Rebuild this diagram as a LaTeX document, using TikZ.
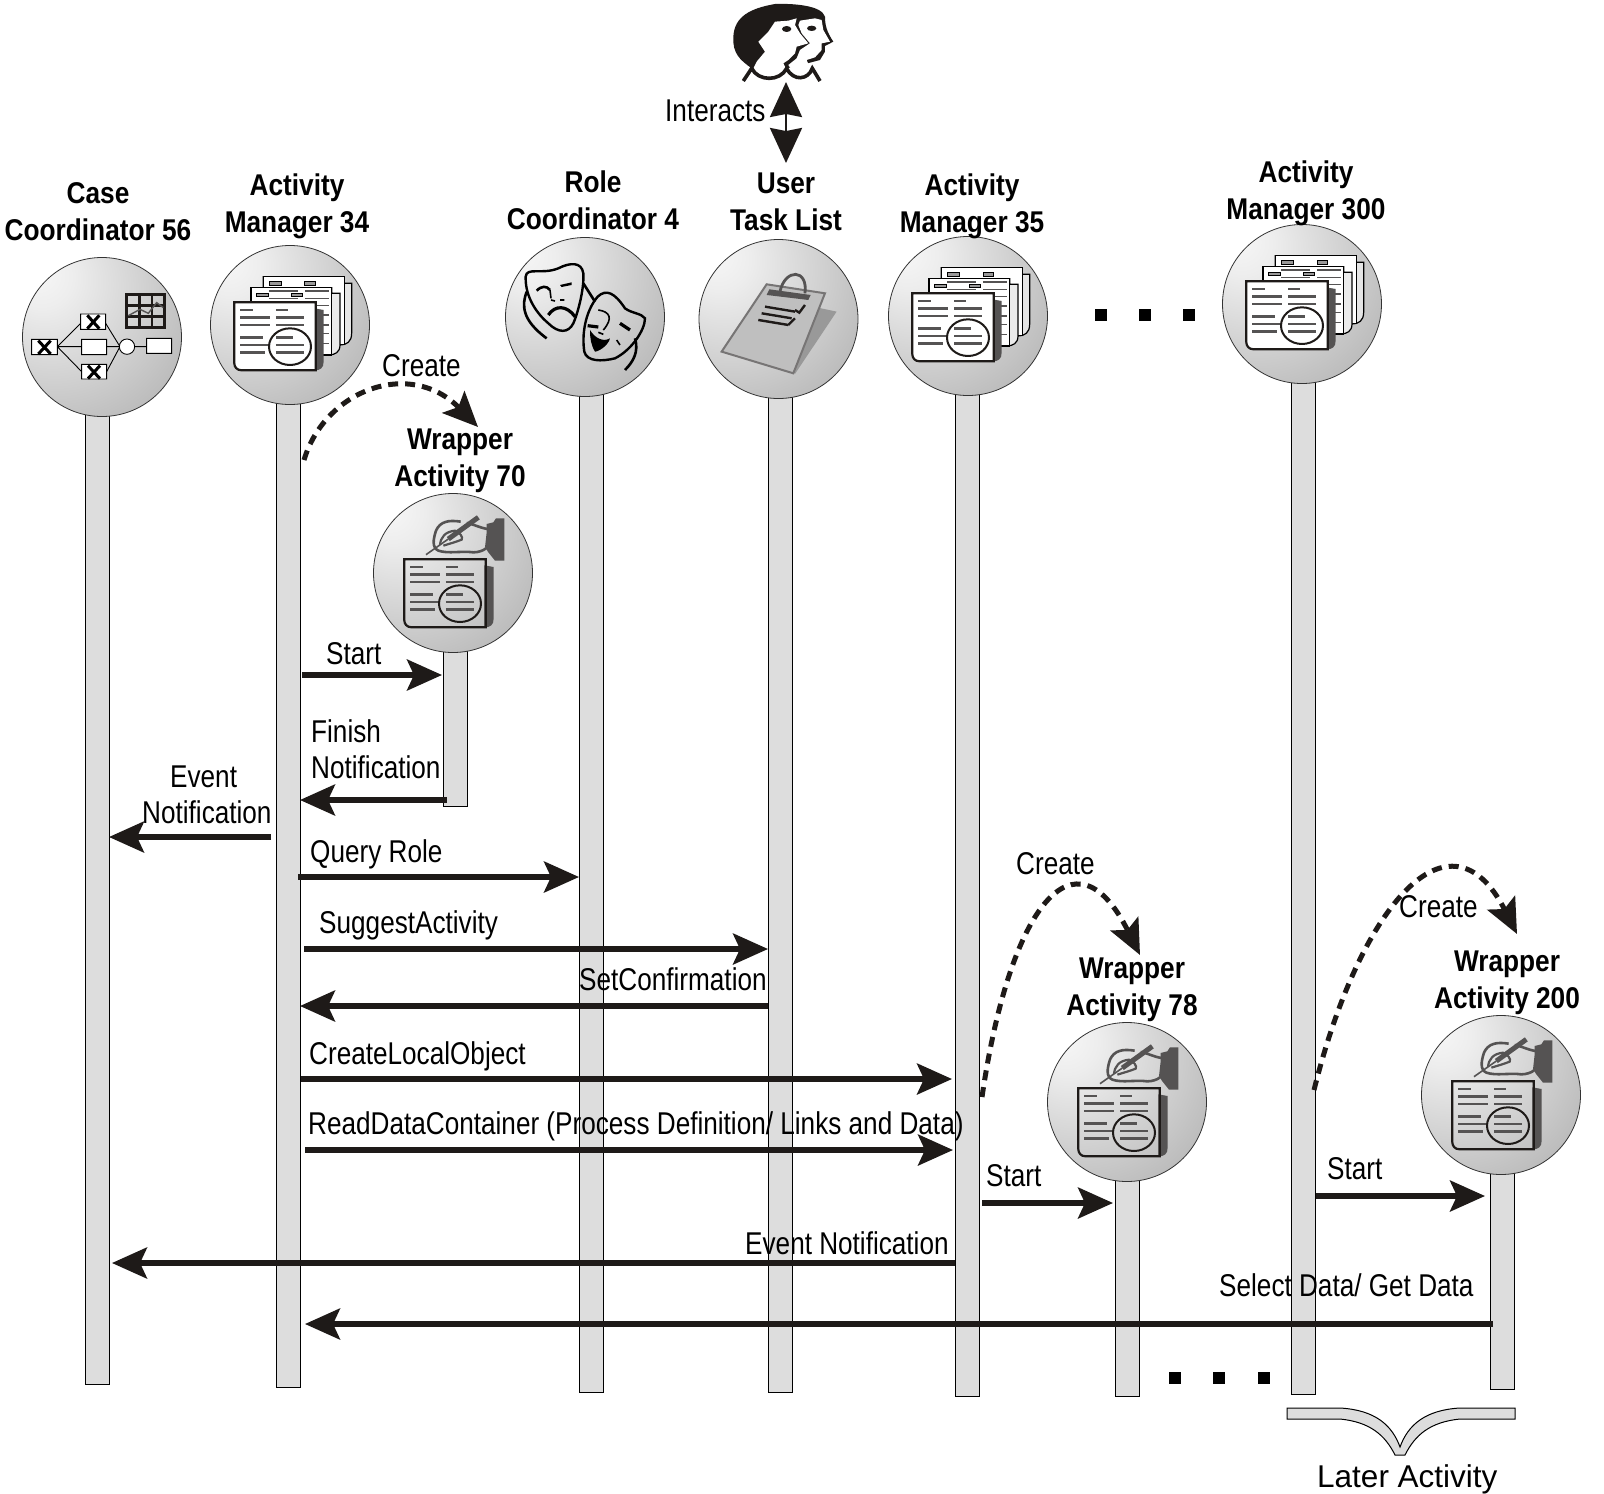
\documentclass[tikz,border=0pt]{standalone}
\usepackage{fontspec}
\setmainfont{Liberation Sans}
\newfontfamily\labelfont[FakeStretch=0.83]{Liberation Sans}
\newfontfamily\titlefont[FakeStretch=0.875]{Liberation Sans}
\usetikzlibrary{arrows.meta}
\definecolor{inkdark}{HTML}{1E1A18}
\definecolor{iconmid}{HTML}{555353}
\definecolor{lifegrey}{HTML}{DDDDDD}
\pgfdeclareradialshading{ballshade}{\pgfpoint{-21bp}{21bp}}{color(0bp)=(white!97!black); color(10bp)=(white!93!black); color(30bp)=(white!81!black); color(50bp)=(white!69!black); color(65bp)=(white!57!black); color(80bp)=(white!38!black); color(100bp)=(white!25!black)}
\tikzset{
  lifeline/.style={draw=black,line width=1pt,fill=lifegrey,minimum width=24pt,anchor=south,inner sep=0pt},
  ball/.style={circle,draw=black!80,line width=0.8pt,shading=ballshade,minimum size=159pt,inner sep=0pt},
  title/.style={align=center,font=\titlefont\bfseries\fontsize{30}{37}\selectfont,inner sep=0pt},
  msglabel/.style={anchor=base west,align=left,font=\labelfont\fontsize{31.5}{35}\selectfont,inner sep=0pt},
  msg/.style={-{Stealth[length=35pt,width=31pt,inset=7pt]},line width=5.2pt,color=inkdark},
  create/.style={-{Stealth[length=35pt,width=31pt,inset=7pt]},line width=5pt,color=inkdark,dash pattern=on 10pt off 7pt},
  dotmark/.style={fill=black,minimum size=12pt,inner sep=0pt},
  pics/docpage/.style={code={
    \begin{scope}[shift={(-65,-60)},scale=0.3333]
      \fill[iconmid] (268,130) -- (296,135) -- (296,290) .. controls (296,310) and (285,316) .. (268,316) -- cycle;
      \draw[line width=2.2pt,draw=inkdark,fill=#1] (28,112) -- (272,112) -- (272,316) -- (50,316) .. controls (35,316) and (28,305) .. (28,295) -- cycle;
      \foreach \xa/\xb/\yy in {45/85/135,45/135/157,45/135/180,45/115/218,45/135/240,45/120/262,153/188/135,153/237/157,153/237/180,153/203/218,153/237/240,153/237/262}
        \draw[line width=2.8pt,color=iconmid] (\xa,\yy) -- (\xb,\yy);
      \draw[line width=2pt,color=inkdark] (195,245) ellipse (63 and 55);
    \end{scope}}},
  pics/docstack/.style={code={
    \begin{scope}[shift={(-65,-60)},scale=0.3333]
      \draw[line width=1.2pt,fill=white!90!black] (115,35) -- (358,35) -- (358,55) -- (380,55) -- (380,205) .. controls (380,230) and (365,240) .. (345,240) -- (115,240) -- cycle;
      \draw[line width=1pt,fill=white] (115,35) -- (358,35) -- (358,240) -- (115,240) -- cycle;
      \draw[line width=1pt,fill=iconmid!60] (133,50) rectangle (170,62) (240,50) rectangle (272,62);
      \draw[line width=1.2pt,fill=white!92!black] (78,68) -- (320,68) -- (320,85) -- (345,85) -- (345,240) .. controls (345,262) and (330,270) .. (310,270) -- (78,270) -- cycle;
      \draw[line width=1.6pt,fill=white] (78,68) -- (320,68) -- (320,270) -- (78,270) -- cycle;
      \draw[line width=1pt,fill=iconmid!60] (95,85) rectangle (130,95) (200,85) rectangle (232,95);
      \foreach \yy in {78,100,122,150,180,205,235}
        \draw[line width=1.6pt,color=iconmid] (132,\yy) -- (220,\yy) (240,\yy) -- (312,\yy);
    \end{scope}
    \pic {docpage=white};}},
  pics/handpen/.style={code={
    \begin{scope}[shift={(-33,-64)},scale=0.3333]
      \fill[iconmid] (200,45) -- (220,40) -- (228,28) -- (253,28) -- (253,155) -- (225,155) -- (205,130) -- (195,115) -- (200,70) -- cycle;
      \draw[line width=2.6pt,color=iconmid] (202,60) .. controls (175,55) and (160,45) .. (140,42);
      \draw[line width=2.6pt,color=iconmid] (122,38) .. controls (85,32) and (60,38) .. (48,65) .. controls (40,90) and (35,115) .. (55,125) .. controls (85,135) and (125,125) .. (160,130) .. controls (175,130) and (190,125) .. (198,118);
      \draw[line width=2.2pt,color=iconmid] (60,108) .. controls (62,85) and (75,68) .. (105,65) .. controls (120,70) and (130,85) .. (125,92) .. controls (105,100) and (85,105) .. (70,110);
      \draw[line width=5pt,color=iconmid] (175,25) -- (85,90);
      \draw[line width=1.6pt,color=iconmid] (85,90) -- (18,137);
    \end{scope}
    \pic[shift={(7,9)}] {docpage=none};}}
}

\begin{document}
\begin{tikzpicture}[x=1pt,y=-1pt]
      \useasboundingbox (0,0) rectangle (1604,1494);
      % lifelines
      \node[lifeline,minimum height=1047pt] (lcase) at (97,1385) {}; \node[lifeline,minimum height=1062pt] (lam34) at (288,1388) {}; \node[lifeline,minimum height=1074pt] (lrole) at (591.5,1393) {};
      \node[lifeline,minimum height=1072pt] (luser) at (780.5,1393) {}; \node[lifeline,minimum height=1079pt] (lam35) at (967.5,1397) {}; \node[lifeline,minimum height=1090pt] (lam300) at (1303.5,1395) {};
      \node[lifeline,minimum height=232pt] (lwa70) at (455.5,807) {}; \node[lifeline,minimum height=294pt] (lwa78) at (1127,1397) {}; \node[lifeline,minimum height=294pt] (lwa200) at (1502.5,1390) {};
      % balls
      \node[ball] (case) at (102,337) {}; \node[ball] (am34) at (290,325) {}; \node[ball] (role) at (585,317) {}; \node[ball] (user) at (778.5,319) {};
      \node[ball] (am35) at (968,316) {}; \node[ball] (am300) at (1302,304) {}; \node[ball] (wa70) at (453,573) {}; \node[ball] (wa78) at (1127,1102) {}; \node[ball] (wa200) at (1501,1095) {};
      % titles
      \node[title] (tcase) at (98,212) {Case\\Coordinator 56}; \node[title] (tam34) at (297,206) {Activity\\Manager 34}; \node[title] (trole) at (593,200) {Role\\Coordinator 4};
      \node[title] (tuser) at (786,202) {User\\Task List}; \node[title] (tam35) at (972,206) {Activity\\Manager 35}; \node[title] (tam300) at (1306,193) {Activity\\Manager 300};
      \node[title] (twa70) at (460,461) {Wrapper\\Activity 70}; \node[title] (twa78) at (1132,990) {Wrapper\\Activity 78}; \node[title] (twa200) at (1507,983) {Wrapper\\Activity 200};
      % icons
      \pic at (am34) {docstack}; \pic at (am35) {docstack}; \pic at (am300) {docstack};
      \pic at (wa70) {handpen}; \pic at (wa78) {handpen}; \pic at (wa200) {handpen};
      % case icon
      \begin{scope}[shift={(0,150)},scale=0.3333]
        \draw[line width=0.9pt] (172,590) -- (242,520) (172,590) -- (245,590) (172,590) -- (245,665) (317,520) -- (360,590) (320,590) -- (358,590) (320,665) -- (360,590) (405,590) -- (440,590);
        \draw[line width=0.9pt,fill=white] (95,568) rectangle (172,614) (242,492) rectangle (317,538) (245,568) rectangle (320,614) (245,643) rectangle (320,687) (440,565) rectangle (515,610) (381,590) circle (23);
        \draw[line width=3pt] (115,572) -- (152,612) (152,572) -- (115,612) (262,496) -- (298,536) (298,496) -- (262,536) (264,647) -- (300,686) (300,647) -- (264,686);
        \draw[line width=2.4pt,color=inkdark] (380,433) rectangle (493,532) (418,433) -- (418,532) (456,433) -- (456,532) (380,466) -- (493,466) (380,499) -- (493,499);
        \draw[line width=1.4pt,color=iconmid] (385,497) -- (420,478) -- (445,490) -- (470,458) -- (490,473);
      \end{scope}
      % mask icon
      \begin{scope}[shift={(515,255)},scale=0.3333]
        \draw[line width=2.6pt,color=black] (35,110) .. controls (20,150) and (20,195) .. (95,250) (205,85) -- (240,140) (360,250) .. controls (372,290) and (355,320) .. (330,345);
        \draw[line width=2.4pt,color=black] (32,65) .. controls (35,35) and (80,60) .. (130,40) .. controls (165,22) and (200,20) .. (205,55) .. controls (208,100) and (190,170) .. (175,205) .. controls (160,235) and (130,235) .. (100,205) .. controls (70,180) and (30,130) .. (32,65) -- cycle;
        \draw[line width=2.4pt,color=black] (248,125) .. controls (275,100) and (300,115) .. (330,160) .. controls (350,175) and (380,175) .. (390,190) .. controls (390,225) and (350,285) .. (300,310) .. controls (260,320) and (215,320) .. (208,290) .. controls (200,240) and (210,170) .. (248,125) -- cycle;
        \draw[line width=2.6pt,color=black] (65,107) .. controls (80,92) and (95,92) .. (105,105);
        \draw[line width=1.6pt,color=black] (105,105) -- (108,130) (108,135) -- (120,138) (135,135) -- (148,135);
        \fill[black] (135,90) -- (170,82) -- (170,90) -- (140,96) -- cycle;
        \draw[line width=3.2pt,color=black] (100,180) .. controls (120,150) and (155,150) .. (180,185) (218,212) -- (250,216) (315,205) -- (345,225);
        \draw[line width=1.6pt,color=black] (250,165) .. controls (285,170) and (295,190) .. (265,225) (250,232) -- (265,238) (305,255) -- (315,270);
        \fill[black] (225,225) .. controls (240,250) and (265,262) .. (285,250) .. controls (280,272) and (250,290) .. (240,290) .. controls (228,270) and (225,250) .. (225,225) -- cycle;
      \end{scope}
      % clipboard icon
      \begin{scope}[shift={(480,0)},scale=0.3333]
        \fill[white!60!black] (1000,920) -- (1070,935) -- (945,1122) -- (890,1000) -- cycle;
        \draw[line width=2pt,draw=iconmid!80,fill=white!75!black] (860,853) -- (1035,880) -- (940,1120) -- (725,1055) -- cycle;
        \draw[line width=2.8pt,draw=iconmid] (900,875) .. controls (915,805) and (985,805) .. (975,880);
        \fill[iconmid] (868,868) -- (992,885) -- (985,900) -- (860,885) -- cycle;
        \draw[line width=2.4pt,color=inkdark] (855,920) -- (945,935) (845,940) -- (935,955) (835,960) -- (925,975) (945,930) -- (958,938) -- (975,915) (925,975) -- (945,955);
      \end{scope}
      % people icon
      \begin{scope}[shift={(725,0)},scale=0.3333]
        \fill[inkdark] (25,110) .. controls (28,50) and (75,25) .. (150,12) .. controls (200,10) and (290,15) .. (300,50) .. controls (300,75) and (305,95) .. (325,125) -- (300,138) -- (300,155) -- (285,180) -- (255,188) -- (185,205) -- (80,205) .. controls (45,180) and (22,160) .. (25,110) -- cycle;
        \fill[white] (225,62) -- (270,55) -- (290,60) -- (295,90) -- (315,125) -- (290,130) -- (290,150) -- (270,172) -- (245,180) -- (255,205) -- (245,228) -- (215,230) -- (190,195) -- (215,175) -- (225,150) -- (255,130) -- (230,100) -- (220,75) -- cycle;
        \fill[white] (150,65) -- (190,62) -- (215,55) -- (210,75) -- (225,100) -- (250,130) -- (215,140) -- (210,160) -- (190,180) -- (175,190) -- (185,210) -- (170,235) -- (100,235) -- (85,205) -- (95,185) -- (120,155) -- (100,125) -- (130,95) -- cycle;
        \fill[inkdark] (185,87) ellipse (14 and 9) (260,85) ellipse (14 and 8);
        \draw[line width=3.6pt,color=inkdark] (55,243) -- (80,205) .. controls (100,245) and (165,245) .. (185,205) .. controls (205,245) and (250,240) .. (262,205) -- (285,243);
      \end{scope}
      % people arrow
      \coordinate (talk) at (786,82); \coordinate (tasklist) at (786,163);
      \draw[{Stealth[length=35pt,width=32pt,inset=3pt]}-{Stealth[length=35pt,width=32pt,inset=3pt]},line width=2.6pt,color=inkdark] (talk) -- (tasklist);
      % dots
      \foreach \i/\xx in {1/1101,2/1145,3/1189} \node[dotmark] (dotsa\i) at (\xx,315) {};
      \foreach \i/\xx in {1/1175,2/1219,3/1264} \node[dotmark] (dotsb\i) at (\xx,1378) {};
      % create
      \coordinate (ca1) at (304,460); \coordinate (cb1) at (478,427); \draw[create] (ca1) .. controls (325,390) and (410,358) .. (cb1);
      \coordinate (ca2) at (982,1097); \coordinate (cb2) at (1140,955); \draw[create] (ca2) .. controls (1010,905) and (1075,825) .. (cb2);
      \coordinate (ca3) at (1314,1090); \coordinate (cb3) at (1517,934); \draw[create] (ca3) .. controls (1360,905) and (1450,802) .. (cb3);
      % messages
      \coordinate (ma1) at (302,675); \coordinate (mb1) at (442,675); \draw[msg] (ma1) -- (mb1);
      \coordinate (ma2) at (447,800); \coordinate (mb2) at (300,800); \draw[msg] (ma2) -- (mb2);
      \coordinate (ma3) at (271,837); \coordinate (mb3) at (109,837); \draw[msg] (ma3) -- (mb3);
      \coordinate (ma4) at (298,877); \coordinate (mb4) at (579,877); \draw[msg] (ma4) -- (mb4);
      \coordinate (ma5) at (304,949); \coordinate (mb5) at (768,949); \draw[msg] (ma5) -- (mb5);
      \coordinate (ma6) at (768,1006); \coordinate (mb6) at (300,1006); \draw[msg] (ma6) -- (mb6);
      \coordinate (ma7) at (301,1079); \coordinate (mb7) at (952,1079); \draw[msg] (ma7) -- (mb7);
      \coordinate (ma8) at (305,1150); \coordinate (mb8) at (953,1150); \draw[msg] (ma8) -- (mb8);
      \coordinate (ma9) at (982,1203); \coordinate (mb9) at (1113,1203); \draw[msg] (ma9) -- (mb9);
      \coordinate (ma10) at (1316,1196); \coordinate (mb10) at (1485,1196); \draw[msg] (ma10) -- (mb10);
      \coordinate (ma11) at (955,1263); \coordinate (mb11) at (112,1263); \draw[msg] (ma11) -- (mb11);
      \coordinate (ma12) at (1493,1324); \coordinate (mb12) at (305,1324); \draw[msg] (ma12) -- (mb12);
      % labels
      \node[msglabel] (linteract) at (665,121) {Interacts}; \node[msglabel] (lcreatea) at (382,376) {Create}; \node[msglabel] (lstarta) at (326,664) {Start};
      \node[msglabel] (lfinish) at (311,742) {Finish}; \node[msglabel] (lfinishb) at (311,778) {Notification}; \node[msglabel] (levent) at (170,787) {Event}; \node[msglabel] (leventb) at (142,823) {Notification};
      \node[msglabel] (lquery) at (310,862) {Query Role}; \node[msglabel] (lsuggest) at (319,933) {SuggestActivity}; \node[msglabel] (lconfirm) at (579,990) {SetConfirmation};
      \node[msglabel] (llocal) at (309,1064) {CreateLocalObject}; \node[msglabel] (lread) at (308,1134) {ReadDataContainer (Process Definition/ Links and Data)};
      \node[msglabel] (lcreateb) at (1016,874) {Create}; \node[msglabel] (lstartb) at (986,1186) {Start}; \node[msglabel] (lcreatec) at (1399,917) {Create}; \node[msglabel] (lstartc) at (1327,1179) {Start};
      \node[msglabel] (leventc) at (745,1254) {Event Notification}; \node[msglabel] (lselect) at (1219,1296) {Select Data/ Get Data};
      % later activity
      \draw[line width=1pt,fill=lifegrey] (1287,1408) -- (1340,1408) .. controls (1375,1410) and (1392,1425) .. (1400,1447) .. controls (1408,1425) and (1425,1410) .. (1460,1408) -- (1515,1408) -- (1515,1419) -- (1460,1419) .. controls (1430,1422) and (1415,1435) .. (1405,1455) -- (1395,1455) .. controls (1385,1435) and (1370,1422) .. (1340,1419) -- (1287,1419) -- cycle;
      \node[anchor=base west,inner sep=0pt,font=\fontsize{31.5}{35}\selectfont] (llater) at (1317,1487) {Later Activity};
    \end{tikzpicture}
\end{document}
